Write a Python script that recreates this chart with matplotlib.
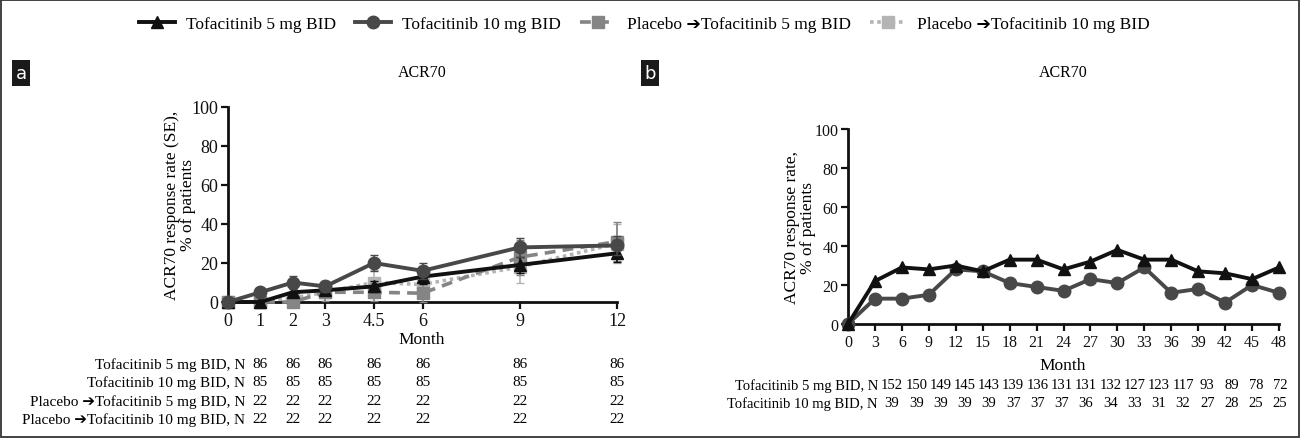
import numpy as np
import matplotlib
matplotlib.use("Agg")
import matplotlib.pyplot as plt
from matplotlib.lines import Line2D
from matplotlib.patches import Rectangle
import matplotlib.transforms as mtransforms

plt.rcParams['font.family'] = ['Liberation Serif', 'DejaVu Sans']

ARROW = "\u2794"

# ---------------- data ----------------
series_names = ["Tofacitinib 5 mg BID", "Tofacitinib 10 mg BID",
                "Placebo " + ARROW + "Tofacitinib 5 mg BID",
                "Placebo " + ARROW + "Tofacitinib 10 mg BID"]

# panel a
months_a = [0, 1, 2, 3, 4.5, 6, 9, 12]
month_labels_a = ["0", "1", "2", "3", "4.5", "6", "9", "12"]
tofa5_a = [0, 0, 5, 6, 8, 13, 19, 25]
tofa5_a_se = [0, 0, 2.4, 2.5, 2.9, 3.6, 4.2, 4.7]
tofa10_a = [0, 5, 10, 8, 20, 16, 28, 29]
tofa10_a_se = [0, 2.4, 3.3, 3.0, 4.3, 4.0, 4.9, 4.9]
pbo5_a = [0, 0, 0, 5, 5, 4.5, 23, 31]
pbo5_a_se = [0, 0, 0, 4.6, 4.6, 4.5, 9.0, 10.0]
pbo10_a = [0, 0, 2, 5, 10, 9, 18, 30]
pbo10_a_se = [0, 0, 2.5, 4.6, 6.4, 6.0, 8.2, 9.8]

n_months_a = [1, 2, 3, 4.5, 6, 9, 12]
n_tofa5_a = [86, 86, 86, 86, 86, 86, 86]
n_tofa10_a = [85, 85, 85, 85, 85, 85, 85]
n_pbo5_a = [22, 22, 22, 22, 22, 22, 22]
n_pbo10_a = [22, 22, 22, 22, 22, 22, 22]
row_labels_a = ["Tofacitinib 5 mg BID, N", "Tofacitinib 10 mg BID, N",
                "Placebo " + ARROW + "Tofacitinib 5 mg BID, N",
                "Placebo " + ARROW + "Tofacitinib 10 mg BID, N"]

# panel b
months_b = [0, 3, 6, 9, 12, 15, 18, 21, 24, 27, 30, 33, 36, 39, 42, 45, 48]
tofa5_b = [0, 22, 29, 28, 30, 27, 33, 33, 28, 32, 38, 33, 33, 27, 26, 23, 29]
tofa10_b = [0, 13, 13, 15, 28, 27, 21, 19, 17, 23, 21, 29, 16, 18, 11, 20, 16]
n_tofa5_b = [152, 150, 149, 145, 143, 139, 136, 131, 131, 132, 127, 123, 117, 93, 89, 78, 72]
n_tofa10_b = [39, 39, 39, 39, 39, 37, 37, 37, 36, 34, 33, 31, 32, 27, 28, 25, 25]
row_labels_b = ["Tofacitinib 5 mg BID, N", "Tofacitinib 10 mg BID, N"]

# ---------------- style ----------------
W, H = 1300, 439
C5, C10, CP5, CP10 = "#111111", "#484848", "#858585", "#b4b4b4"

def fx(px):
    return px / W

def fy(py):
    return 1 - py / H

fig = plt.figure(figsize=(W / 100, H / 100), dpi=100)
fig.patches.append(Rectangle((0.001, 0.002), 0.998, 0.996, transform=fig.transFigure,
                             fill=False, lw=1.3, ec="#333333"))

def style_axes(ax, fs):
    for s in ("top", "right"):
        ax.spines[s].set_visible(False)
    for s in ("left", "bottom"):
        ax.spines[s].set_linewidth(2)
        ax.spines[s].set_color("#111111")
    ax.tick_params(direction="out", length=5, width=1.6, labelsize=fs, pad=2, colors="#111111")
    ax.set_ylim(0, 100)
    ax.set_yticks([0, 20, 40, 60, 80, 100])

# ---------- panel a ----------
axa = fig.add_axes([fx(228), fy(303), fx(617 - 228), (303 - 108) / H])
style_axes(axa, 13)
axa.set_xlim(0, 12)
axa.set_xticks(months_a)
axa.set_xticklabels(month_labels_a)

axa.errorbar(months_a, pbo10_a, yerr=pbo10_a_se, color=CP10, lw=2.6, ls=(0, (1, 1)),
             marker="s", ms=8, capsize=3, elinewidth=1.2, clip_on=False, zorder=2)
axa.errorbar(months_a, pbo5_a, yerr=pbo5_a_se, color=CP5, lw=2.6, ls=(0, (3, 2)),
             marker="s", ms=8, capsize=3, elinewidth=1.2, clip_on=False, zorder=3)
axa.errorbar(months_a, tofa5_a, yerr=tofa5_a_se, color=C5, lw=2.8, marker="^", ms=9,
             capsize=3, elinewidth=1.2, clip_on=False, zorder=4)
axa.errorbar(months_a, tofa10_a, yerr=tofa10_a_se, color=C10, lw=2.8, marker="o", ms=9,
             capsize=3, elinewidth=1.2, clip_on=False, zorder=5)

fig.text(fx(422), fy(340), "Month", ha="center", va="center", fontsize=12.5)
fig.text(fx(180), fy(205), "ACR70 response rate (SE),\n% of patients", rotation=90,
         ha="center", va="center", fontsize=12.5, linespacing=1.0)
fig.text(fx(422), fy(73), "ACR70", ha="center", va="center", fontsize=11.5)

trans_a = mtransforms.blended_transform_factory(axa.transData, fig.transFigure)
rows_a = [n_tofa5_a, n_tofa10_a, n_pbo5_a, n_pbo10_a]
row_y_a = [365, 383, 402, 420]
for lab, vals, ry in zip(row_labels_a, rows_a, row_y_a):
    fig.text(fx(245), fy(ry), lab, ha="right", va="center", fontsize=11)
    for m, v in zip(n_months_a, vals):
        axa.text(m, fy(ry), str(v), transform=trans_a, ha="center", va="center", fontsize=11)

# ---------- panel b ----------
axb = fig.add_axes([fx(848), fy(325), fx(1279 - 848), (325 - 130) / H])
style_axes(axb, 11.5)
axb.set_xlim(0, 48)
axb.set_xticks(months_b)
axb.plot(months_b, tofa10_b, color=C10, lw=2.8, marker="o", ms=9, clip_on=False, zorder=3)
axb.plot(months_b, tofa5_b, color=C5, lw=2.8, marker="^", ms=9, clip_on=False, zorder=4)

fig.text(fx(1063), fy(366), "Month", ha="center", va="center", fontsize=12.5)
fig.text(fx(800), fy(228), "ACR70 response rate,\n% of patients", rotation=90,
         ha="center", va="center", fontsize=12.5, linespacing=1.0)
fig.text(fx(1063), fy(73), "ACR70", ha="center", va="center", fontsize=11.5)

xs_b = np.linspace(892, 1280, len(months_b))
rows_b = [n_tofa5_b, n_tofa10_b]
row_y_b = [386, 404]
for lab, vals, ry in zip(row_labels_b, rows_b, row_y_b):
    fig.text(fx(878), fy(ry), lab, ha="right", va="center", fontsize=10.5)
    for x, v in zip(xs_b, vals):
        fig.text(fx(x), fy(ry), str(v), ha="center", va="center", fontsize=10.5)

# panel letters
for px, letter in ((21, "a"), (650, "b")):
    fig.text(fx(px), fy(74), letter, ha="center", va="center", color="white", fontsize=13,
             family="DejaVu Sans",
             bbox=dict(facecolor="#1a1a1a", edgecolor="none", boxstyle="square,pad=0.2"))

# ---------- legend ----------
handles = [
    Line2D([], [], color=C5, lw=2.8, marker="^", ms=9),
    Line2D([], [], color=C10, lw=2.8, marker="o", ms=9),
    Line2D([], [], color=CP5, lw=2.6, ls=(0, (3, 2)), marker="s", ms=8),
    Line2D([], [], color=CP10, lw=2.6, ls=(0, (1, 1)), marker="s", ms=8),
]
fig.legend(handles, series_names, loc="center", bbox_to_anchor=(fx(644), fy(25)), ncol=4,
           frameon=False, fontsize=12.5, handlelength=2.1, columnspacing=1.1, handletextpad=0.6)

fig.savefig("out.png", dpi=100)
